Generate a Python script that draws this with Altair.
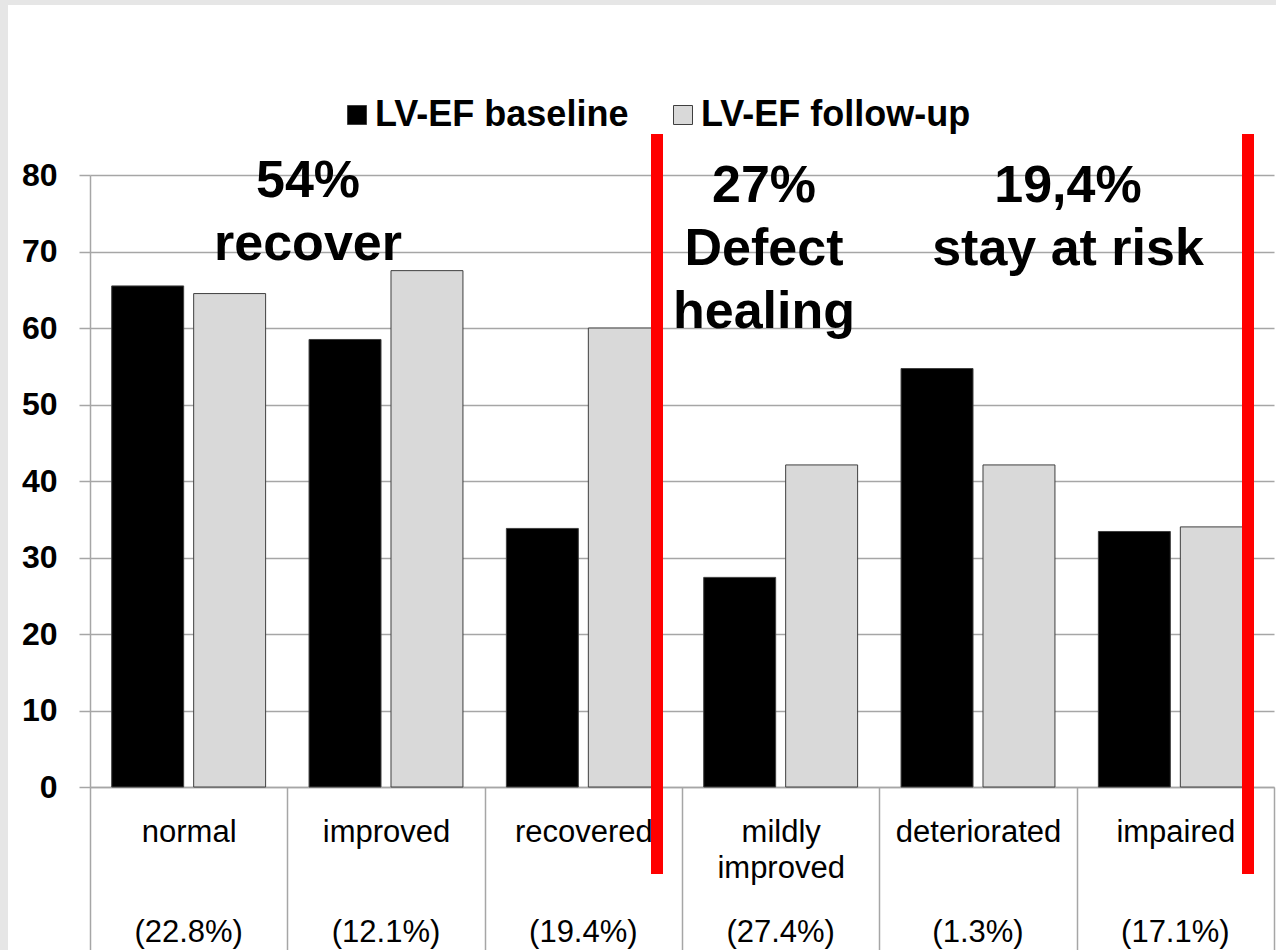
import altair as alt
import pandas as pd

# ---- data -------------------------------------------------------------
categories = ["normal", "improved", "recovered", "mildly improved", "deteriorated", "impaired"]
shares = ["22.8%", "12.1%", "19.4%", "27.4%", "1.3%", "17.1%"]
series = ["LV-EF baseline", "LV-EF follow-up"]
ef_baseline = [65.5, 58.5, 33.8, 27.4, 54.7, 33.4]
ef_follow_up = [64.5, 67.5, 60.0, 42.1, 42.1, 34.0]

notes = ["54%\nrecover", "27%\nDefect\nhealing", "19,4%\nstay at risk"]

# ---- layout / style ---------------------------------------------------
W, H = 1184, 612
PAD = {"left": 90, "top": 175, "right": 2, "bottom": 164}
GRID = "#a6a6a6"
FONT = "Liberation Sans"
note_pos = [(218, 22), (674, 27), (978, 27)]
divider_x = [567, 1158]
share_y = 767

rows = []
for c, b, f in zip(categories, ef_baseline, ef_follow_up):
    rows.append({"group": c, "series": series[0], "ef": b})
    rows.append({"group": c, "series": series[1], "ef": f})
df = pd.DataFrame(rows)

x_enc = alt.X(
    "group:N",
    sort=categories,
    title=None,
    scale=alt.Scale(paddingInner=0, paddingOuter=0),
    axis=alt.Axis(
        labelExpr="split(datum.label, ' ')",
        labelAngle=0,
        labelFontSize=31,
        labelColor="black",
        labelBaseline="alphabetic",
        labelLineHeight=36,
        labelPadding=-109,
        labelOverlap=False,
        labelLimit=400,
        tickBand="extent",
        tickSize=163,
        tickColor=GRID,
        tickWidth=1.5,
        domainColor=GRID,
        domainWidth=1.5,
        grid=False,
    ),
)

bars = alt.Chart(df).mark_bar(stroke="#3f3f3f", strokeWidth=1).encode(
    x=x_enc,
    xOffset=alt.XOffset(
        "series:N", sort=series,
        scale=alt.Scale(paddingInner=0.122, paddingOuter=0.265),
    ),
    y=alt.Y(
        "ef:Q",
        title=None,
        scale=alt.Scale(domain=[0, 80]),
        axis=alt.Axis(
            values=list(range(0, 81, 10)),
            labelFontSize=32,
            labelFontWeight="bold",
            labelColor="black",
            labelPadding=22,
            tickSize=11,
            tickColor=GRID,
            tickWidth=1.5,
            gridColor=GRID,
            gridWidth=1.5,
            domainColor=GRID,
            domainWidth=1.5,
        ),
    ),
    fill=alt.Fill(
        "series:N",
        sort=series,
        scale=alt.Scale(domain=series, range=["#000000", "#d9d9d9"]),
        legend=alt.Legend(
            title=None,
            orient="none",
            legendX=249,
            legendY=-78,
            direction="horizontal",
            symbolType="square",
            symbolSize=361,
            symbolStrokeColor="#3f3f3f",
            symbolStrokeWidth=1,
            labelFontSize=36,
            labelFontWeight="bold",
            labelColor="black",
            labelOffset=0,
            columnPadding=36,
            labelLimit=500,
        ),
    ),
)

# share of patients in each group, printed under the group name
share_df = pd.DataFrame({"group": categories, "share": [f"({s})" for s in shares]})
share_text = alt.Chart(share_df).mark_text(
    fontSize=31, baseline="alphabetic", align="center", color="black"
).encode(
    x=alt.X("group:N", sort=categories),
    y=alt.value(share_y),
    text="share:N",
)

one = pd.DataFrame({"k": [0]})

# red group dividers
dividers = [
    alt.Chart(one).mark_rule(color="#ff0000", strokeWidth=12).encode(
        x=alt.value(x), y=alt.value(-41), y2=alt.value(699)
    )
    for x in divider_x
]

# group annotations
labels = [
    alt.Chart(one).mark_text(
        fontSize=52, fontWeight="bold", align="center", baseline="alphabetic",
        lineBreak="\n", lineHeight=63, color="black",
    ).encode(x=alt.value(px), y=alt.value(py), text=alt.value(t))
    for t, (px, py) in zip(notes, note_pos)
]

# slide frame strips
frame = [
    alt.Chart(one).mark_rect(color="#e6e6e6").encode(
        x=alt.value(-90), x2=alt.value(-82), y=alt.value(-175), y2=alt.value(H + PAD["bottom"])
    ),
    alt.Chart(one).mark_rect(color="#e6e6e6").encode(
        x=alt.value(-90), x2=alt.value(W + PAD["right"]), y=alt.value(-175), y2=alt.value(-170)
    ),
]

chart = alt.layer(bars, share_text, *dividers, *labels, *frame).properties(
    width=W,
    height=H,
    padding=PAD,
    autosize=alt.AutoSizeParams(type="none"),
    background="white",
).configure(font=FONT).configure_view(stroke=None)

chart.save("out.html", embed_options={"renderer": "svg", "actions": False})
